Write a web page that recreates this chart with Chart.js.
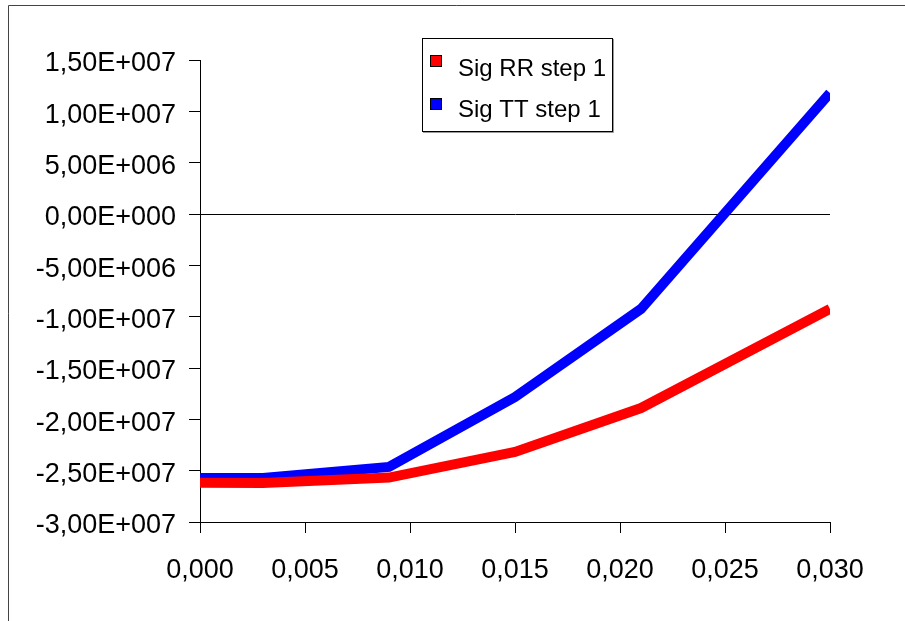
<!DOCTYPE html>
<html>
<head>
<meta charset="utf-8">
<script src="https://cdn.jsdelivr.net/npm/chart.js@4"></script>
<style>
    html, body { margin: 0; padding: 0; background: #fff; }
    #wrap { width: 905px; height: 621px; }
</style>
</head>
<body>
<div id="wrap"><canvas id="chart" width="905" height="621"></canvas></div>
<script>
const xValues = [0, 0.003, 0.009, 0.015, 0.021, 0.030];
const sigRR = [-2.617e7, -2.62e7, -2.567e7, -2.318e7, -1.89e7, -9.25e6];
const sigTT = [-2.572e7, -2.572e7, -2.464e7, -1.783e7, -9.25e6, 1.179e7];
const seriesLabels = ["Sig RR step 1", "Sig TT step 1"];
const seriesColors = ["#FF0000", "#0000FF"];

const FONT = "'Liberation Sans', Arial, sans-serif";

// 1,50E+007 style labels
function sciLabel(v) {
    if (Math.abs(v) < 1e-6) return "0,00E+000";
    const e = Math.floor(Math.log10(Math.abs(v)) + 1e-9);
    const m = v / Math.pow(10, e);
    return m.toFixed(2).replace(".", ",") + "E+" + String(e).padStart(3, "0");
}

function toPoints(ys) {
    return xValues.map((x, i) => ({ x: x, y: ys[i] }));
}

// outer frame of the chart area (cut at right and bottom)
const framePlugin = {
    id: "frame",
    beforeDraw(chart) {
        const c = chart.ctx;
        c.save();
        c.fillStyle = "#fff";
        c.fillRect(0, 0, chart.width, chart.height);
        c.strokeStyle = "#444";
        c.lineWidth = 1;
        c.beginPath();
        c.moveTo(8.5, chart.height);
        c.lineTo(8.5, 5.5);
        c.lineTo(chart.width, 5.5);
        c.stroke();
        c.restore();
    }
};

// legend box inside the plot
const legendBox = {
    id: "legendBox",
    afterDraw(chart) {
        const c = chart.ctx;
        c.save();
        c.fillStyle = "#fff";
        c.fillRect(422, 38, 190, 93);
        c.strokeStyle = "#999";
        c.lineWidth = 1;
        c.beginPath();
        c.moveTo(613.5, 39);
        c.lineTo(613.5, 132.5);
        c.lineTo(423, 132.5);
        c.stroke();
        c.strokeStyle = "#000";
        c.strokeRect(422.5, 38.5, 190, 93);
        const rows = [[55, 76], [98, 117]];
        chart.data.datasets.forEach((ds, i) => {
            c.fillStyle = ds.borderColor;
            c.fillRect(430, rows[i][0], 12, 12);
            c.strokeStyle = "#000";
            c.strokeRect(430.5, rows[i][0] + 0.5, 11, 11);
            c.fillStyle = "#000";
            c.font = "24px " + FONT;
            c.textBaseline = "alphabetic";
            c.textAlign = "left";
            c.fillText(ds.label, 458, rows[i][1]);
        });
        c.restore();
    }
};

new Chart(document.getElementById("chart"), {
    type: "scatter",
    data: {
        datasets: [
            {
                label: seriesLabels[0],
                data: toPoints(sigRR),
                borderColor: seriesColors[0],
                backgroundColor: seriesColors[0],
                borderWidth: 10,
                showLine: true,
                pointRadius: 0,
                tension: 0
            },
            {
                label: seriesLabels[1],
                data: toPoints(sigTT),
                borderColor: seriesColors[1],
                backgroundColor: seriesColors[1],
                borderWidth: 10,
                showLine: true,
                pointRadius: 0,
                tension: 0
            }
        ]
    },
    options: {
        responsive: false,
        animation: false,
        layout: { padding: { left: 0, top: 60, right: 75, bottom: 0 } },
        plugins: {
            legend: { display: false },
            tooltip: { enabled: false }
        },
        scales: {
            x: {
                type: "linear",
                min: 0,
                max: 0.03,
                afterFit(scale) { scale.height = 99; },
                ticks: {
                    stepSize: 0.005,
                    color: "#000",
                    font: { family: FONT, size: 27 },
                    padding: 21,
                    maxRotation: 0,
                    callback: v => v.toFixed(3).replace(".", ",")
                },
                grid: {
                    drawOnChartArea: false,
                    tickLength: 11,
                    tickColor: "#000"
                },
                border: { color: "#000", width: 1 }
            },
            y: {
                min: -3e7,
                max: 1.5e7,
                afterFit(scale) { scale.width = 200; },
                ticks: {
                    stepSize: 5e6,
                    color: "#000",
                    font: { family: FONT, size: 27 },
                    padding: 13,
                    labelOffset: 4,
                    callback: v => sciLabel(v)
                },
                grid: {
                    color: ctx => (ctx.tick && Math.abs(ctx.tick.value) < 1) ? "#000" : "rgba(0,0,0,0)",
                    tickLength: 11,
                    tickColor: "#000"
                },
                border: { color: "#000", width: 1 }
            }
        }
    },
    plugins: [framePlugin, legendBox]
});
</script>
</body>
</html>
